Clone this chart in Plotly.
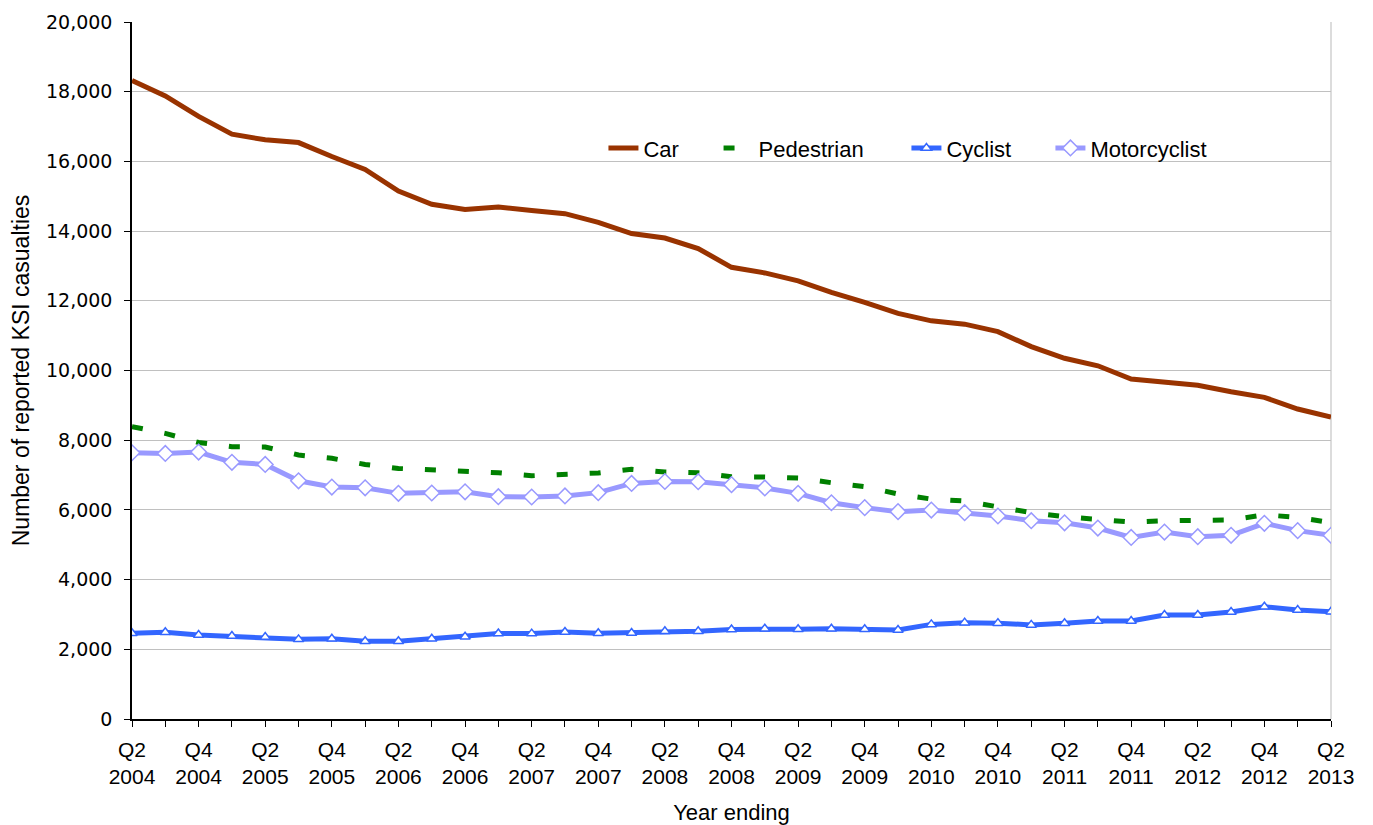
import plotly.graph_objects as go

# Quarterly periods (rolling year ending), Q2 2004 to Q2 2013
quarters = [
    "Q2 2004", "Q3 2004", "Q4 2004", "Q1 2005", "Q2 2005", "Q3 2005", "Q4 2005", "Q1 2006",
    "Q2 2006", "Q3 2006", "Q4 2006", "Q1 2007", "Q2 2007", "Q3 2007", "Q4 2007", "Q1 2008",
    "Q2 2008", "Q3 2008", "Q4 2008", "Q1 2009", "Q2 2009", "Q3 2009", "Q4 2009", "Q1 2010",
    "Q2 2010", "Q3 2010", "Q4 2010", "Q1 2011", "Q2 2011", "Q3 2011", "Q4 2011", "Q1 2012",
    "Q2 2012", "Q3 2012", "Q4 2012", "Q1 2013", "Q2 2013",
]

car = [
    18320, 17880, 17290, 16780, 16620, 16540, 16140, 15770,
    15150, 14770, 14620, 14690, 14590, 14500, 14250, 13930,
    13800, 13500, 12960, 12800, 12570, 12240, 11955, 11640,
    11425, 11330, 11115, 10685, 10350, 10135, 9755, 9680,
    9575, 9390, 9230, 8895, 8665,
]

pedestrian = [
    8390, 8195, 7935, 7815, 7805, 7575, 7480, 7305,
    7190, 7145, 7135, 7065, 6980, 7030, 7060, 7165,
    7085, 7065, 6950, 6945, 6915, 6780, 6665, 6455,
    6310, 6255, 6090, 5920, 5805, 5745, 5650, 5690,
    5710, 5710, 5860, 5785, 5635,
]

cyclist = [
    2460, 2490, 2410, 2380, 2350, 2285, 2305, 2230,
    2230, 2305, 2360, 2455, 2450, 2495, 2460, 2470,
    2515, 2515, 2570, 2590, 2575, 2590, 2575, 2555,
    2715, 2765, 2750, 2700, 2745, 2810, 2810, 2985,
    2985, 3070, 3220, 3125, 3080,
]

motorcyclist = [
    7640, 7620, 7660, 7365, 7305, 6835, 6655, 6635,
    6475, 6485, 6520, 6380, 6370, 6400, 6495, 6760,
    6815, 6810, 6725, 6630, 6475, 6205, 6065, 5950,
    5995, 5920, 5825, 5690, 5630, 5480, 5210, 5365,
    5230, 5270, 5615, 5405, 5270,
]

x = list(range(len(quarters)))
tick_text = [q.replace(" ", "<br>") if i % 2 == 0 else "" for i, q in enumerate(quarters)]

ARIAL = "Liberation Sans, Arial, sans-serif"

fig = go.Figure()

fig.add_trace(go.Scatter(
    x=x, y=car, name="Car", mode="lines", legend="legend",
    line=dict(color="#993300", width=5),
))
fig.add_trace(go.Scatter(
    x=x, y=pedestrian, name="Pedestrian", mode="lines", legend="legend2",
    line=dict(color="#008000", width=5, dash="11px,22px"),
))
fig.add_trace(go.Scatter(
    x=x, y=cyclist, name="Cyclist", mode="lines+markers", legend="legend3",
    line=dict(color="#3366FF", width=5),
    marker=dict(symbol="triangle-up", size=9, color="white",
                line=dict(color="#3366FF", width=1.5)),
))
fig.add_trace(go.Scatter(
    x=x, y=motorcyclist, name="Motorcyclist", mode="lines+markers", legend="legend4",
    line=dict(color="#9999FF", width=5),
    marker=dict(symbol="diamond", size=12, color="white",
                line=dict(color="#9999FF", width=1.5)),
))

# One legend per series, laid out in a single row inside the plot area
legend_x = [0.3932, 0.4892, 0.6459, 0.7660]
legend_common = dict(
    orientation="h", y=0.819, xanchor="left", yanchor="middle",
    bgcolor="rgba(0,0,0,0)", borderwidth=0,
    font=dict(family=ARIAL, size=22, color="black"),
)

fig.update_layout(
    width=1373, height=825,
    margin=dict(l=132, r=42, t=22, b=106),
    paper_bgcolor="white", plot_bgcolor="white",
    font=dict(family=ARIAL, size=21, color="black"),
    showlegend=True,
    legend=dict(x=legend_x[0], **legend_common),
    legend2=dict(x=legend_x[1], **legend_common),
    legend3=dict(x=legend_x[2], **legend_common),
    legend4=dict(x=legend_x[3], **legend_common),
    xaxis=dict(
        range=[0, len(quarters) - 1],
        tickmode="array", tickvals=x, ticktext=tick_text,
        ticks="outside", ticklen=6, tickcolor="black", tickwidth=1,
        showline=True, linecolor="black", linewidth=1.5,
        showgrid=False, zeroline=False,
        tickfont=dict(family=ARIAL, size=21),
        ticklabelstandoff=5,
        automargin=False,
        title=dict(text="Year ending", standoff=20,
                   font=dict(family=ARIAL, size=22)),
    ),
    yaxis=dict(
        range=[0, 20000], dtick=2000, tickformat=",",
        ticks="outside", ticklen=6, tickcolor="black", tickwidth=1,
        showline=True, linecolor="black", linewidth=1.5,
        showgrid=True, gridcolor="#C0C0C0", gridwidth=1,
        zeroline=False,
        tickfont=dict(family="DejaVu Sans, Verdana, sans-serif", size=19),
        ticklabelstandoff=8,
        automargin=False,
        title=dict(text="Number of reported KSI casualties", standoff=10,
                   font=dict(family=ARIAL, size=23)),
    ),
    shapes=[
        # light right-hand border of the plot area
        dict(type="line", xref="paper", yref="paper", x0=1, x1=1, y0=0, y1=1,
             line=dict(color="#D0D0D0", width=1.5), layer="below"),
        # white backing panel behind the legend row
        dict(type="rect", xref="paper", yref="paper", x0=0.366, x1=0.902,
             y0=0.793, y1=0.845, fillcolor="white", line=dict(width=0),
             layer="between"),
    ],
)

fig.write_html("out.html")
